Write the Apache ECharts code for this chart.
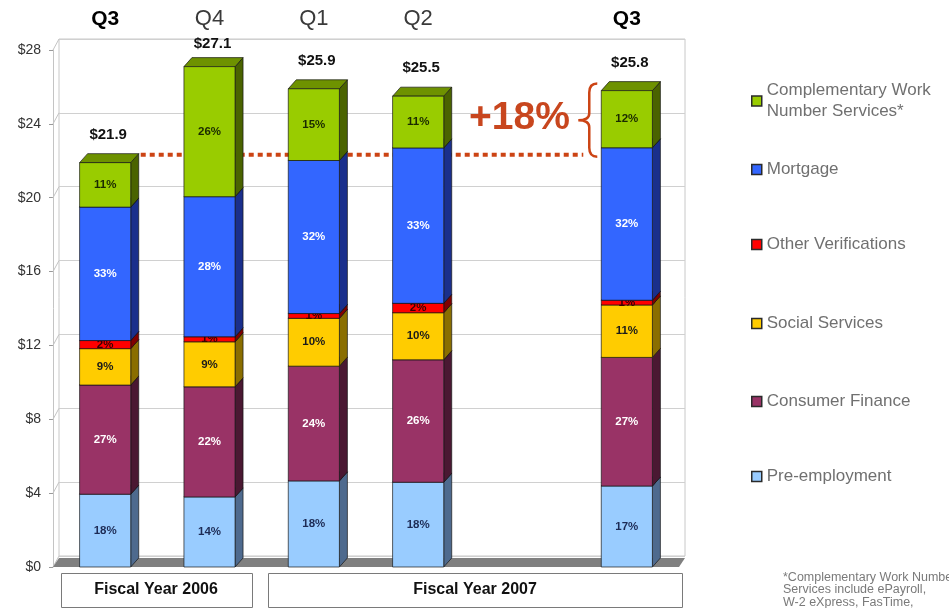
<!DOCTYPE html>
<html>
<head>
<meta charset="utf-8">
<script src="https://cdn.jsdelivr.net/npm/echarts/dist/echarts.min.js"></script>
<style>
  html, body { margin: 0; padding: 0; background: #ffffff; }
  #chart { width: 949px; height: 608px; }
</style>
</head>
<body>
<div id="chart"></div>
<script>
// Quarterly revenue ($ millions) by business line; shares in percent of each quarter's total.
const quarters = ['Q3', 'Q4', 'Q1', 'Q2', '', 'Q3'];
const boldQuarter = [true, false, false, false, false, true];
const totals = [21.9, 27.1, 25.9, 25.5, null, 25.8];

const preEmployment      = [18, 14, 18, 18, null, 17];
const consumerFinance    = [27, 22, 24, 26, null, 27];
const socialServices     = [9, 9, 10, 10, null, 11];
const otherVerifications = [2, 1, 1, 2, null, 1];
const mortgage           = [33, 28, 32, 33, null, 32];
const complementaryWork  = [11, 26, 15, 11, null, 12];

const yTicks = [0, 4, 8, 12, 16, 20, 24, 28];
const fiscalYears = ['Fiscal Year 2006', 'Fiscal Year 2007'];
const growthLabel = '+18%';
const baseQuarter = 0;      // Q3 FY2006
const compareQuarter = 5;   // Q3 FY2007
const footnote = ['*Complementary Work Number', 'Services include ePayroll,', 'W-2 eXpress, FasTime,'];

// Stack order, bottom to top
const segments = [
  { name: 'Pre-employment',  shares: preEmployment,      front: '#99ccff', side: '#4e6a8e', top: '#6f94bd', label: '#1d2b55' },
  { name: 'Consumer Finance', shares: consumerFinance,   front: '#993366', side: '#4a1832', top: '#6e2449', label: '#ffffff' },
  { name: 'Social Services', shares: socialServices,     front: '#ffcc00', side: '#8a6e00', top: '#b89200', label: '#1a1a1a' },
  { name: 'Other Verifications', shares: otherVerifications, front: '#ff0000', side: '#800000', top: '#b00000', label: '#3a0000' },
  { name: 'Mortgage',        shares: mortgage,           front: '#3366ff', side: '#1a2f8c', top: '#2447b8', label: '#ffffff' },
  { name: 'Complementary Work Number Services*', shares: complementaryWork, front: '#99cc00', side: '#4a6300', top: '#6e9200', label: '#1a2a00' }
];

const DX = 8, DY = 9;        // bar depth
const WX = 6, WY = 11;       // back wall offset
const EDGE = 'rgba(20,20,20,0.85)';
const FONT = 'Liberation Sans, Arial, sans-serif';

// cumulative stacks
const stackRows = segments.map(() => []);
quarters.forEach((q, i) => {
  if (totals[i] == null) return;
  let acc = 0;
  segments.forEach((s, k) => {
    const v = totals[i] * s.shares[i] / 100;
    stackRows[k].push([i, acc, acc + v, s.shares[i]]);
    acc += v;
  });
});

function segmentRenderer(seg) {
  return function (params, api) {
    const x = api.value(0);
    const lo = api.coord([x, api.value(1)]);
    const hi = api.coord([x, api.value(2)]);
    const bw = api.size([1, 0])[0] * 0.49;
    const x0 = lo[0] - bw / 2, x1 = lo[0] + bw / 2;
    const yb = lo[1], yt = hi[1];
    const stroke = { stroke: EDGE, lineWidth: 0.8 };
    return {
      type: 'group',
      children: [
        { type: 'polygon', shape: { points: [[x1, yb], [x1 + DX, yb - DY], [x1 + DX, yt - DY], [x1, yt]] },
          style: Object.assign({ fill: seg.side }, stroke) },
        { type: 'polygon', shape: { points: [[x0, yt], [x0 + DX, yt - DY], [x1 + DX, yt - DY], [x1, yt]] },
          style: Object.assign({ fill: seg.top }, stroke) },
        { type: 'rect', shape: { x: x0, y: yt, width: bw, height: yb - yt },
          style: Object.assign({ fill: seg.front }, stroke) },
        { type: 'text', x: lo[0], y: (yt + yb) / 2,
          style: { text: api.value(3) + '%', fill: seg.label, font: 'bold 11.5px ' + FONT,
                   align: 'center', verticalAlign: 'middle' } }
      ]
    };
  };
}

const series = [];

// floor slab and depth connectors of the value axis
series.push({
  type: 'custom', name: 'frame', silent: true, z: 1,
  xAxisIndex: 0, yAxisIndex: 0,
  data: yTicks.map(v => [0, v]),
  renderItem: function (params, api) {
    const cs = params.coordSys;
    const p = api.coord([0, api.value(1)]);
    const children = [
      { type: 'line', shape: { x1: cs.x, y1: p[1], x2: cs.x + WX, y2: p[1] - WY },
        style: { stroke: '#c4c4c4', lineWidth: 1 } }
    ];
    if (params.dataIndex === 0) {
      const yb = cs.y + cs.height;
      children.push({
        type: 'polygon',
        shape: { points: [[cs.x, yb], [cs.x + cs.width, yb], [cs.x + cs.width + WX, yb - DY], [cs.x + WX, yb - DY]] },
        style: { fill: '#808080' }
      });
    }
    return { type: 'group', children };
  }
});

// dotted reference line at the base quarter's total
series.push({
  type: 'custom', name: 'baseline', silent: true, z: 2,
  xAxisIndex: 0, yAxisIndex: 0,
  data: [[baseQuarter, compareQuarter, totals[baseQuarter]]],
  renderItem: function (params, api) {
    const a = api.coord([api.value(0), api.value(2)]);
    const b = api.coord([api.value(1), api.value(2)]);
    const bw = api.size([1, 0])[0] * 0.49;
    return {
      type: 'line',
      shape: { x1: a[0] + bw / 2 + DX + 2, y1: a[1] - 8, x2: b[0] - bw / 2 - 18, y2: b[1] - 8 },
      style: { stroke: '#cc4414', lineWidth: 4, lineDash: [5, 4] }
    };
  }
});

segments.forEach((s, k) => {
  series.push({
    type: 'custom', name: s.name, z: 3,
    xAxisIndex: 0, yAxisIndex: 0,
    itemStyle: { color: s.front },
    encode: { x: 0, y: [1, 2] },
    data: stackRows[k],
    renderItem: segmentRenderer(s)
  });
});

// quarter totals above the bars
series.push({
  type: 'custom', name: 'totals', silent: true, z: 4,
  xAxisIndex: 0, yAxisIndex: 0,
  data: totals.map((t, i) => [i, t]).filter(d => d[1] != null),
  renderItem: function (params, api) {
    const p = api.coord([api.value(0), api.value(1)]);
    return {
      type: 'text', x: p[0] + 3, y: Math.max(p[1] - 28, 44),
      style: { text: '$' + api.value(1).toFixed(1), fill: '#111', font: 'bold 15px ' + FONT,
               align: 'center', verticalAlign: 'middle' }
    };
  }
});

// growth brace and label
series.push({
  type: 'custom', name: 'growth', silent: true, z: 5,
  xAxisIndex: 0, yAxisIndex: 0,
  data: [[baseQuarter, compareQuarter, totals[baseQuarter], totals[compareQuarter]]],
  renderItem: function (params, api) {
    const lo = api.coord([api.value(1), api.value(2)]);
    const hi = api.coord([api.value(1), api.value(3)]);
    const bw = api.size([1, 0])[0] * 0.49;
    const xR = lo[0] - bw / 2 - 4, xM = xR - 8, xL = xR - 19;
    const y0 = hi[1] - 7, y1 = lo[1] - 6, ym = (y0 + y1) / 2;
    const path = 'M' + xR + ' ' + y0 + ' Q' + xM + ' ' + y0 + ' ' + xM + ' ' + (y0 + 9) +
      ' L' + xM + ' ' + (ym - 7) + ' Q' + xM + ' ' + ym + ' ' + xL + ' ' + ym +
      ' Q' + xM + ' ' + ym + ' ' + xM + ' ' + (ym + 7) +
      ' L' + xM + ' ' + (y1 - 9) + ' Q' + xM + ' ' + y1 + ' ' + xR + ' ' + y1;
    const mid = api.coord([4, (api.value(2) + api.value(3)) / 2]);
    return {
      type: 'group',
      children: [
        { type: 'path', shape: { pathData: path }, style: { fill: null, stroke: '#cc4414', lineWidth: 2.5 } },
        { type: 'text', x: mid[0] - 3, y: mid[1] - 8,
          style: { text: growthLabel, fill: '#c8461e', font: 'bold 39px ' + FONT,
                   align: 'center', verticalAlign: 'middle' } }
      ]
    };
  }
});

// one legend block per business line, top to bottom
const legendTops = [75, 154, 229, 308, 386, 461];
const legendOrder = segments.slice().reverse();
const legends = legendOrder.map((s, i) => ({
  data: [s.name],
  orient: 'vertical',
  left: 746,
  top: legendTops[i],
  icon: 'rect',
  itemWidth: 10,
  itemHeight: 10,
  itemGap: 0,
  itemStyle: { borderColor: '#2a2a2a', borderWidth: 1.5 },
  formatter: n => n === 'Complementary Work Number Services*' ? 'Complementary Work\nNumber Services*' : n,
  textStyle: { color: '#707070', fontSize: 17, fontFamily: FONT, lineHeight: 21 }
}));

const GRID_LEFT = 53, GRID_WIDTH = 626, GRID_TOP = 50, GRID_HEIGHT = 517;

const option = {
  animation: false,
  backgroundColor: '#ffffff',
  legend: legends,
  grid: [
    { left: GRID_LEFT, top: GRID_TOP, width: GRID_WIDTH, height: GRID_HEIGHT },
    { left: GRID_LEFT + WX, top: GRID_TOP - WY, width: GRID_WIDTH, height: GRID_HEIGHT,
      show: true, borderColor: '#c8c8c8', borderWidth: 1, backgroundColor: 'transparent' }
  ],
  xAxis: [
    {
      gridIndex: 0, type: 'category', position: 'top', data: quarters,
      axisLine: { show: false }, axisTick: { show: false },
      axisLabel: {
        margin: 20, interval: 0,
        formatter: (v, i) => boldQuarter[i] ? '{b|' + v + '}' : '{n|' + v + '}',
        rich: {
          b: { fontSize: 21, fontWeight: 'bold', color: '#000', fontFamily: FONT },
          n: { fontSize: 22, color: '#3a3a3a', fontFamily: FONT }
        }
      }
    },
    { gridIndex: 1, type: 'category', data: quarters, show: false }
  ],
  yAxis: [
    {
      gridIndex: 0, type: 'value', min: 0, max: 28, interval: 4,
      axisLine: { show: true, lineStyle: { color: '#c4c4c4' } },
      axisTick: { show: true, length: 4, lineStyle: { color: '#9a9a9a' } },
      splitLine: { show: false },
      axisLabel: { margin: 12, formatter: v => '$' + v, color: '#333', fontSize: 14, fontFamily: FONT }
    },
    {
      gridIndex: 1, type: 'value', min: 0, max: 28, interval: 4,
      axisLine: { show: false }, axisTick: { show: false }, axisLabel: { show: false },
      splitLine: { show: true, lineStyle: { color: '#d0d0d0', width: 1 } }
    }
  ],
  graphic: [
    { type: 'rect', left: 61, top: 573, shape: { width: 191, height: 34 },
      style: { fill: '#fff', stroke: '#7a7a7a', lineWidth: 1 } },
    { type: 'text', x: 156, y: 590,
      style: { text: fiscalYears[0], fill: '#111', font: 'bold 16px ' + FONT, align: 'center', verticalAlign: 'middle' } },
    { type: 'rect', left: 268, top: 573, shape: { width: 414, height: 34 },
      style: { fill: '#fff', stroke: '#7a7a7a', lineWidth: 1 } },
    { type: 'text', x: 475, y: 590,
      style: { text: fiscalYears[1], fill: '#111', font: 'bold 16px ' + FONT, align: 'center', verticalAlign: 'middle' } },
    { type: 'text', x: 783, y: 571,
      style: { text: footnote.join('\n'), fill: '#7a7a7a', font: '12.5px ' + FONT, lineHeight: 12.5 } }
  ],
  series: series
};

const chart = echarts.init(document.getElementById('chart'), null, { renderer: 'canvas' });
chart.setOption(option);
</script>
</body>
</html>
